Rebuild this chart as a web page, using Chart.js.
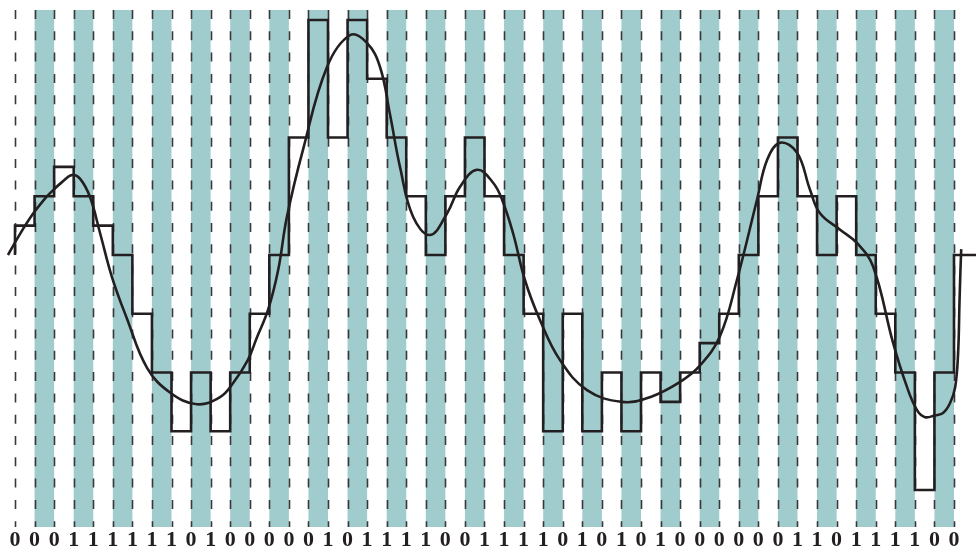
<!DOCTYPE html>
<html lang="en">
<head>
    <meta charset="UTF-8">
    <title>Delta modulation</title>
    <style>
        body {
            margin: 0;
            padding: 0;
            background-color: white;
        }
        .container {
            width: 976px;
            height: 552px;
            position: relative;
        }
    </style>
</head>
<body>
    <div class="container">
        <canvas id="deltaChart"></canvas>
    </div>

    <script src="https://cdn.jsdelivr.net/npm/chart.js"></script>
    <script>
        // bit written under each sample instant
        const bits = [0,0,0,1,1,1,1,1,1,0,1,0,0,0,0,0,1,
                      0,1,1,1,1,0,0,1,1,1,1,0,1,0,1,0,
                      1,0,0,0,0,0,0,1,1,0,1,1,1,1,0,0];

        // staircase level held during each sample interval
        const stepStart = 4;
        const stepLevels = [4.5,5,5.5,5,4.5,4,3,2,1,2,1,2,3,4,6,8,6,8,7,6,5,4,5,6,
                            5,4,3,1,3,1,2,1,2,1.5,2,2.5,3,4,5,6,5,4,5,4,3,2,0,2];
        const stepEnd = 4;

        // analog signal
        const curveX = [-0.36,0.26,0.92,1.53,1.94,2.40,2.91,3.32,3.83,4.35,4.96,5.72,6.75,7.92,9.30,10.48,11.15,11.90,
                        12.37,12.93,13.45,13.90,14.72,15.95,17.12,17.99,18.66,19.17,19.68,20.35,
                        21.22,22.09,22.75,23.62,24.44,24.90,25.46,26.07,26.84,27.86,29.24,31.03,
                        32.46,34.00,35.02,36.04,36.90,37.93,38.45,39.11,39.98,40.64,41.15,42.18,
                        43.05,43.87,44.89,45.60,46.11,46.52,47.03,47.44,47.80,48.06,48.21,48.28,48.33,48.37];
        const curveY = [4.00,4.36,4.70,4.96,5.10,5.24,5.36,5.30,4.99,4.37,3.62,2.92,2.08,1.66,1.46,1.58,1.82,2.21,
                        2.60,3.06,3.74,4.65,5.79,7.20,7.74,7.61,7.20,6.39,5.50,4.65,
                        4.34,4.71,5.16,5.45,5.23,4.94,4.37,3.57,2.89,2.21,1.70,1.50,
                        1.58,1.84,2.12,2.62,3.57,4.94,5.62,5.91,5.74,5.11,4.71,4.43,
                        4.20,3.80,2.50,1.75,1.36,1.24,1.27,1.31,1.48,1.75,2.33,3.18,3.74,4.10];

        const xMin = -0.767, xMax = 49.125;
        const yMin = -0.63, yMax = 8.34;
        const bandTop = 8.17;
        const ink = '#231f20';

        const stepData = [{ x: 0, y: stepStart }];
        stepLevels.forEach((v, i) => stepData.push({ x: i + 1, y: v }));
        stepData.push({ x: xMax, y: stepEnd });

        const curveData = curveX.map((x, i) => ({ x: x, y: curveY[i] }));

        // teal bands on every other interval and dashed sample lines
        const backdrop = {
            id: 'backdrop',
            beforeDatasetsDraw(chart) {
                const { ctx, scales: { x, y } } = chart;
                const top = y.getPixelForValue(bandTop);
                const bottom = chart.chartArea.bottom;
                ctx.save();
                ctx.fillStyle = '#a0cccd';
                for (let i = 1; i < bits.length - 1; i += 2) {
                    const x0 = x.getPixelForValue(i);
                    const x1 = x.getPixelForValue(i + 1);
                    ctx.fillRect(x0, top, x1 - x0, bottom - top);
                }
                ctx.strokeStyle = '#383838';
                ctx.lineWidth = 1.6;
                ctx.setLineDash([9, 12.3]);
                bits.forEach((b, i) => {
                    const px = Math.round(x.getPixelForValue(i)) + 0.5;
                    ctx.beginPath();
                    ctx.moveTo(px, top);
                    ctx.lineTo(px, bottom);
                    ctx.stroke();
                });
                ctx.restore();
            }
        };

        const ctx = document.getElementById('deltaChart').getContext('2d');
        new Chart(ctx, {
            type: 'line',
            data: {
                datasets: [{
                    label: 'Staircase',
                    data: stepData,
                    stepped: 'after',
                    borderColor: ink,
                    borderWidth: 2.6,
                    pointRadius: 0,
                    fill: false
                }, {
                    label: 'Signal',
                    data: curveData,
                    tension: 0.4,
                    borderColor: ink,
                    borderWidth: 2.6,
                    pointRadius: 0,
                    fill: false
                }]
            },
            options: {
                responsive: true,
                maintainAspectRatio: false,
                animation: false,
                layout: { padding: 0 },
                plugins: {
                    legend: { display: false },
                    tooltip: { enabled: false }
                },
                scales: {
                    x: {
                        type: 'linear',
                        min: xMin,
                        max: xMax,
                        afterBuildTicks: (scale) => {
                            scale.ticks = bits.map((b, i) => ({ value: i }));
                        },
                        afterFit: (scale) => {
                            scale.height = 25;
                        },
                        ticks: {
                            autoSkip: false,
                            maxRotation: 0,
                            padding: 0,
                            color: ink,
                            font: { family: '"Liberation Serif", "DejaVu Serif", serif', size: 22, weight: 'bold' },
                            callback: (v) => String(bits[v])
                        },
                        grid: { display: false, drawTicks: false },
                        border: { display: false }
                    },
                    y: {
                        type: 'linear',
                        min: yMin,
                        max: yMax,
                        display: false
                    }
                }
            },
            plugins: [backdrop]
        });
    </script>
</body>
</html>
